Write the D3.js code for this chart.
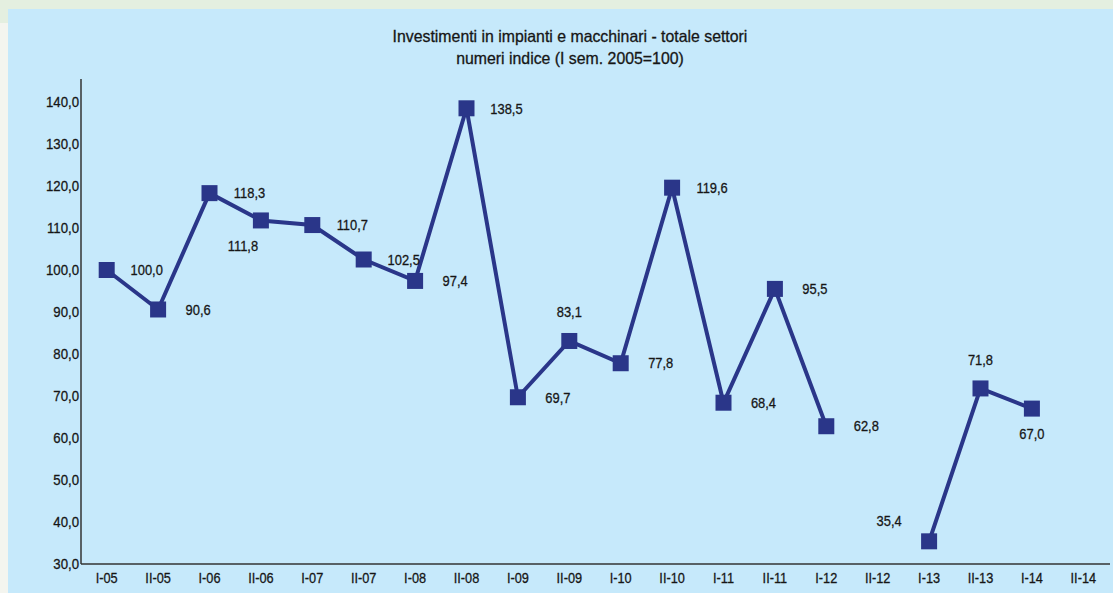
<!DOCTYPE html>
<html><head><meta charset="utf-8">
<script src="https://cdn.jsdelivr.net/npm/d3@7"></script>
<style>
html,body{margin:0;padding:0;background:#f4f5ef;}
svg{display:block;}
text{font-family:"Liberation Sans",Arial,sans-serif;fill:#161616;stroke:#161616;stroke-width:0.3px;}
</style></head>
<body><svg id="c" width="1113" height="593"></svg>
<script>
const categories = ["I-05","II-05","I-06","II-06","I-07","II-07","I-08","II-08","I-09","II-09","I-10","II-10","I-11","II-11","I-12","II-12","I-13","II-13","I-14","II-14"];
const values = [100.0,90.6,118.3,111.8,110.7,102.5,97.4,138.5,69.7,83.1,77.8,119.6,68.4,95.5,62.8,null,35.4,71.8,67.0,null];
const labelPos = ["right","right","right","below-left","right","right","right","right","right","above","right","right","right","right","right",null,"above-left","above","below",null];
const yTicks = [30,40,50,60,70,80,90,100,110,120,130,140];
const titleLines = ["Investimenti in impianti e macchinari - totale settori","numeri indice (I sem. 2005=100)"];

const svg = d3.select("#c");
const W = 1113, H = 593;
svg.append("rect").attr("x",0).attr("y",0).attr("width",W).attr("height",23).attr("fill","#e4efe0");
svg.append("rect").attr("x",8).attr("y",9).attr("width",W-8).attr("height",H-9).attr("fill","#c6e9fb");

const x = d3.scaleBand().domain(categories).range([81,1109]);
const y = d3.scaleLinear().domain([30,140]).range([564,102]);
const fmt = v => d3.format(".1f")(v).replace(".",",");

function squeeze(sel, f){
  sel.each(function(){
    const L = this.getComputedTextLength();
    d3.select(this).attr("textLength", L*f).attr("lengthAdjust","spacingAndGlyphs");
  });
}

// title
const tt = svg.selectAll("text.title").data(titleLines).join("text")
  .attr("class","title").attr("x",570).attr("y",(d,i)=>42+i*22)
  .attr("text-anchor","middle").style("font-size","16.5px")
  .text(d=>d);
squeeze(tt, 0.96);

// y axis
const yAxis = d3.axisLeft(y).tickValues(yTicks).tickSize(0).tickPadding(2).tickFormat(fmt);
const gy = svg.append("g").attr("transform","translate(81,0)").call(yAxis);
gy.select(".domain").remove();
gy.selectAll("text").style("font-size","15px").style("font-family","'Liberation Sans',Arial,sans-serif").attr("fill","#161616");
squeeze(gy.selectAll("text"), 0.88);
svg.append("line").attr("x1",81).attr("x2",81).attr("y1",79).attr("y2",564).attr("stroke","#333").attr("stroke-width",1.5);

// x axis
const xAxis = d3.axisBottom(x).tickSize(0).tickPadding(8);
const gx = svg.append("g").attr("transform","translate(0,564)").call(xAxis);
gx.select(".domain").remove();
gx.selectAll("text").style("font-size","15px").style("font-family","'Liberation Sans',Arial,sans-serif").attr("fill","#161616");
squeeze(gx.selectAll("text"), 0.85);
svg.append("line").attr("x1",81).attr("x2",1110).attr("y1",564).attr("y2",564).attr("stroke","#333").attr("stroke-width",1.5);

const cx = d => x(d) + x.bandwidth()/2;
const pts = categories.map((c,i)=>({c, v: values[i], p: labelPos[i]}));
const col = "#2a3689";

const line = d3.line().defined(d=>d.v!==null).x(d=>cx(d.c)).y(d=>y(d.v));
svg.append("path").datum(pts).attr("d",line).attr("fill","none").attr("stroke",col).attr("stroke-width",4).attr("stroke-linejoin","miter");

const valid = pts.filter(d=>d.v!==null);
svg.selectAll("rect.m").data(valid).join("rect").attr("class","m")
  .attr("x",d=>cx(d.c)-8).attr("y",d=>y(d.v)-8).attr("width",16).attr("height",16).attr("fill",col);

const off = {"right":[40,0],"below-left":[-18,25],"above":[0,-29],"above-left":[-40,-21],"below":[0,25]};
const lb = svg.selectAll("text.lbl").data(valid).join("text").attr("class","lbl")
  .attr("x",d=>cx(d.c)+off[d.p][0]).attr("y",d=>y(d.v)+off[d.p][1])
  .attr("dy","0.35em").attr("text-anchor","middle").style("font-size","15px")
  .text(d=>fmt(d.v));
squeeze(lb, 0.86);
</script></body></html>
